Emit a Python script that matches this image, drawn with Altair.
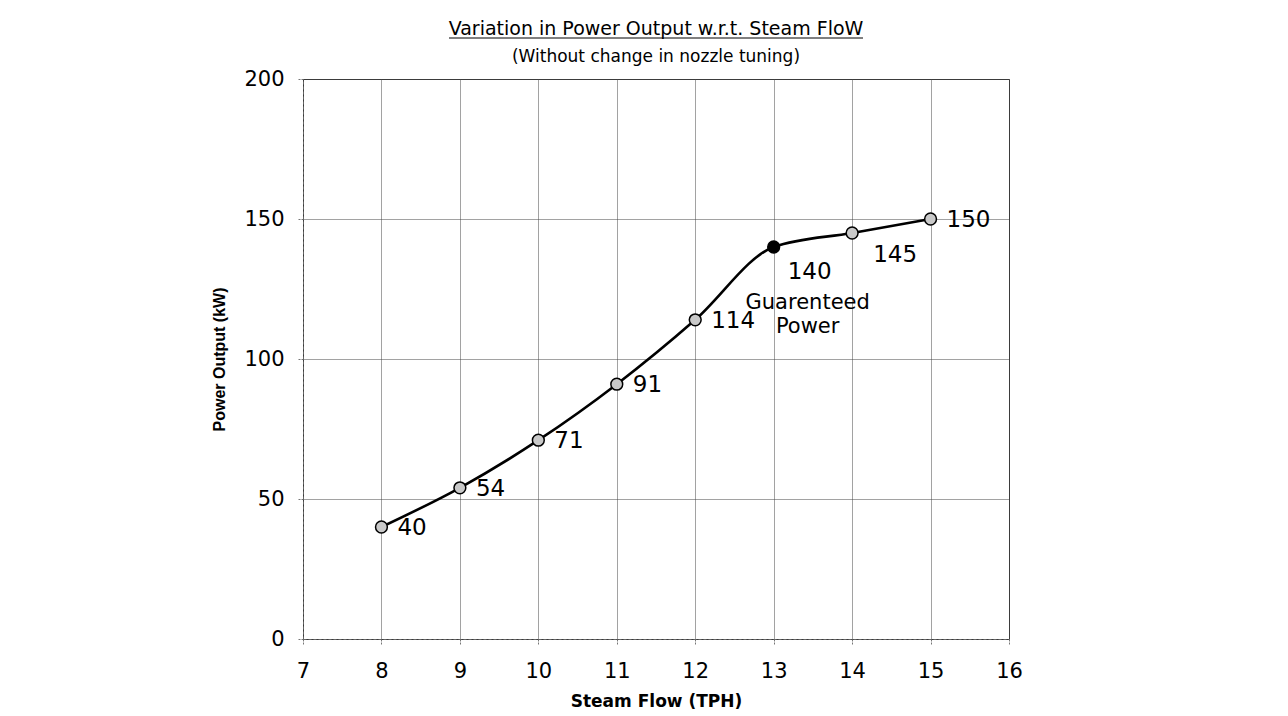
import altair as alt
import pandas as pd

# ---- data ----
steam_flow = [8, 9, 10, 11, 12, 13, 14, 15]
power_kw = [40, 54, 71, 91, 114, 140, 145, 150]
x_ticks = [7, 8, 9, 10, 11, 12, 13, 14, 15, 16]
y_ticks = [0, 50, 100, 150, 200]
guaranteed_flow = 13
below_right_flow = 14
annotation_lines = ["Guarenteed", "Power"]

title_text = "Variation in Power Output w.r.t. Steam FloW"
subtitle_text = "(Without change in nozzle tuning)"
x_title = "Steam Flow (TPH)"
y_title = "Power Output (kW)"

df = pd.DataFrame({"flow": steam_flow, "power": power_kw})
df["label"] = df["power"].astype(str)

FONT = "DejaVu Sans"

x_enc = alt.X(
    "flow:Q",
    scale=alt.Scale(domain=[7, 16], nice=False, zero=False),
    axis=alt.Axis(values=x_ticks, title=x_title, labelPadding=16, titlePadding=12,
                  labelFlush=False, labelFont=FONT, labelFontSize=21, labelColor="black",
                  titleFontSize=17, titleFont=FONT, titleFontWeight="bold", titleColor="black"),
)
y_enc = alt.Y(
    "power:Q",
    scale=alt.Scale(domain=[0, 200], nice=False),
    axis=alt.Axis(values=y_ticks, title=y_title, labelPadding=14, titlePadding=16,
                  labelFlush=False, labelFont=FONT, labelFontSize=21, labelColor="black",
                  titleFontSize=16, titleFont="Liberation Sans", titleFontWeight="bold",
                  titleColor="black"),
)

base = alt.Chart(df).encode(x=x_enc, y=y_enc)

line = base.mark_line(color="black", strokeWidth=2.6, interpolate="monotone")

points = base.mark_circle(size=140, stroke="black", strokeWidth=1.5, opacity=1).encode(
    fill=alt.condition(alt.datum.flow == guaranteed_flow, alt.value("black"), alt.value("#c9c9c9"))
)

right_labels = base.transform_filter(
    f"datum.flow != {guaranteed_flow} && datum.flow != {below_right_flow}"
).mark_text(align="left", baseline="middle", dx=16, dy=1, fontSize=23, font=FONT, color="black").encode(
    text="label:N"
)

label_guar = base.transform_filter(f"datum.flow == {guaranteed_flow}").mark_text(
    align="center", baseline="middle", dx=36, dy=25, fontSize=23, font=FONT, color="black"
).encode(text="label:N")

label_br = base.transform_filter(f"datum.flow == {below_right_flow}").mark_text(
    align="center", baseline="middle", dx=43, dy=22, fontSize=23, font=FONT, color="black"
).encode(text="label:N")

annotation = base.transform_filter(f"datum.flow == {guaranteed_flow}").mark_text(
    align="center", baseline="alphabetic", dx=34, dy=62, fontSize=21, font=FONT,
    color="black", lineBreak="\n", lineHeight=24, text="\n".join(annotation_lines)
)

underline = alt.Chart(pd.DataFrame({"u": [0]})).mark_rule(color="black", strokeWidth=1).encode(
    x=alt.value(146), x2=alt.value(560), y=alt.value(-41)
)

chart = alt.layer(line, points, right_labels, label_guar, label_br, annotation, underline).properties(
    width=706,
    height=560,
    background="white",
    autosize=alt.AutoSizeParams(type="none"),
    padding={"left": 295, "top": 71, "right": 270, "bottom": 76},
    title=alt.TitleParams(
        text=title_text, subtitle=subtitle_text, font=FONT, fontSize=19, fontWeight="normal",
        subtitleFont=FONT, subtitleFontSize=17, color="black", subtitleColor="black",
        anchor="middle", offset=-27, subtitlePadding=10,
    ),
).configure_view(stroke="#333", strokeWidth=1).configure_axis(
    grid=True, gridColor="#444", gridDash=[1, 1], gridWidth=1,
    tickSize=5, tickColor="#777", tickDash=[2, 1],
    domainColor="#666", domainDash=[3, 2],
)

chart.save("out.html", embed_options={"renderer": "svg", "actions": False})
